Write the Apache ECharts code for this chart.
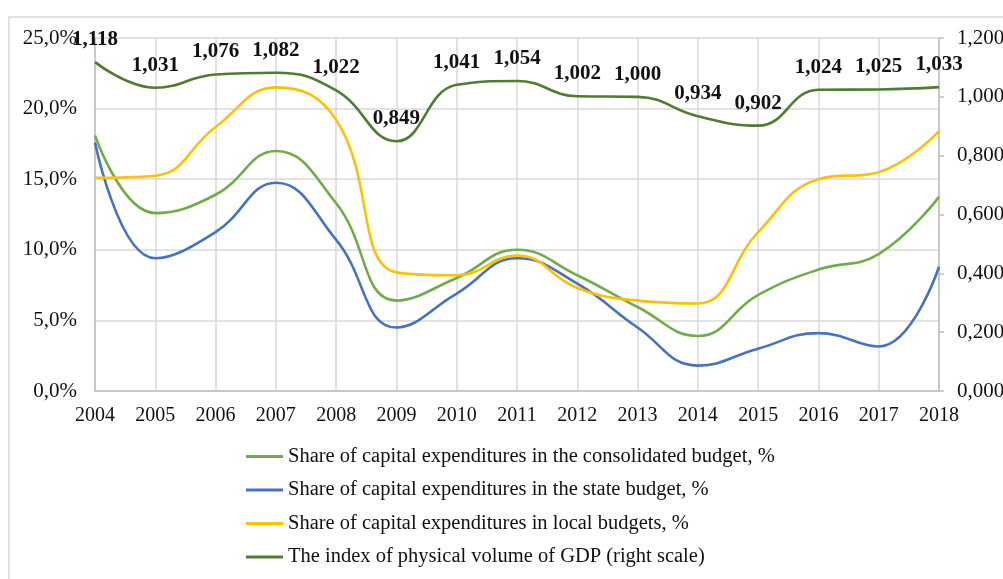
<!DOCTYPE html>
<html>
<head>
<meta charset="utf-8">
<script src="https://cdn.jsdelivr.net/npm/echarts@6/dist/echarts.min.js"></script>
<style>
html,body{margin:0;padding:0;background:#fff;}
#chart{width:1003px;height:579px;}
</style>
</head>
<body>
<div id="chart"></div>
<script>
const years = ['2004','2005','2006','2007','2008','2009','2010','2011','2012','2013','2014','2015','2016','2017','2018'];
const consolidated = [18.1, 12.6, 13.9, 17.0, 13.3, 6.4, 8.0, 10.0, 8.2, 5.95, 3.9, 6.8, 8.6, 9.7, 13.75];
const stateBudget = [17.6, 9.4, 11.25, 14.75, 10.7, 4.5, 6.9, 9.4, 7.6, 4.5, 1.8, 3.0, 4.1, 3.15, 8.8];
const localBudgets = [15.1, 15.25, 18.7, 21.5, 19.2, 8.4, 8.2, 9.6, 7.3, 6.4, 6.2, 11.25, 15.0, 15.5, 18.4];
const gdpIndex = [1.118, 1.031, 1.076, 1.082, 1.022, 0.849, 1.041, 1.054, 1.002, 1.000, 0.934, 0.902, 1.024, 1.025, 1.033];
const leftTicks = {min: 0, max: 25, interval: 5};
const rightTicks = {min: 0, max: 1.2, interval: 0.2};
const names = [
  'Share of capital expenditures in the consolidated budget, %',
  'Share of capital expenditures in the state budget, %',
  'Share of capital expenditures in local budgets, %',
  'The index of physical volume of GDP (right scale)'
];

const FONT = '"Liberation Serif", "Times New Roman", serif';
const chart = echarts.init(document.getElementById('chart'));
const grid = '#d9d9d9';
function lineSeries(name, data, color, yIdx, extra) {
  return Object.assign({
    name, type: 'line', data, yAxisIndex: yIdx, smooth: 0.45,
    symbol: 'circle', symbolSize: 0.1, showSymbol: true,
    lineStyle: {color, width: 2.6}, itemStyle: {color},
    emphasis: {disabled: true}
  }, extra || {});
}
chart.setOption({
  animation: false,
  backgroundColor: '#fff',
  graphic: [{
    type: 'rect', shape: {x: 9, y: 17, width: 1010, height: 600},
    style: {fill: 'none', stroke: '#d9d9d9', lineWidth: 1.5}, silent: true, z: -10
  }],
  grid: {left: 95, right: 64, top: 38, bottom: 188, containLabel: false, outerBoundsMode: 'none'},
  legend: {
    orient: 'vertical', left: 246, top: 446, padding: 0,
    itemWidth: 37, itemHeight: 3, itemGap: 12.5, icon: 'rect',
    textStyle: {fontFamily: FONT, fontSize: 20.5, color: '#111', lineHeight: 21},
    data: names
  },
  xAxis: {
    type: 'category', data: years, boundaryGap: false,
    axisLine: {lineStyle: {color: '#bfbfbf', width: 1.5}},
    axisTick: {show: false},
    axisLabel: {fontFamily: FONT, fontSize: 20, color: '#111', margin: 15},
    splitLine: {show: true, lineStyle: {color: grid, width: 1.5}}
  },
  yAxis: [{
    type: 'value', min: leftTicks.min, max: leftTicks.max, interval: leftTicks.interval,
    axisLine: {show: true, lineStyle: {color: '#bfbfbf', width: 1.5}},
    axisTick: {show: false},
    axisLabel: {fontFamily: FONT, fontSize: 21, color: '#111', margin: 18,
      formatter: v => v.toFixed(1).replace('.', ',') + '%'},
    splitLine: {show: true, lineStyle: {color: grid, width: 1.5}}
  }, {
    type: 'value', min: rightTicks.min, max: rightTicks.max, interval: rightTicks.interval,
    position: 'right',
    axisLine: {show: true, lineStyle: {color: '#bfbfbf', width: 1.5}},
    axisTick: {show: true, inside: false, length: 5, lineStyle: {color: '#bfbfbf', width: 1.5}},
    axisLabel: {fontFamily: FONT, fontSize: 21, color: '#111', margin: 18,
      formatter: v => v.toFixed(3).replace('.', ',')},
    splitLine: {show: false}
  }],
  series: [
    lineSeries(names[0], consolidated, '#70ad47', 0),
    lineSeries(names[1], stateBudget, '#4472c4', 0),
    lineSeries(names[2], localBudgets, '#ffc000', 0),
    lineSeries(names[3], gdpIndex, '#4e7d2e', 1, {
      label: {show: true, position: 'top', distance: 12,
        fontFamily: FONT, fontSize: 21, fontWeight: 'bold', color: '#111',
        formatter: p => p.value.toFixed(3).replace('.', ',')}
    })
  ]
});
</script>
</body>
</html>
